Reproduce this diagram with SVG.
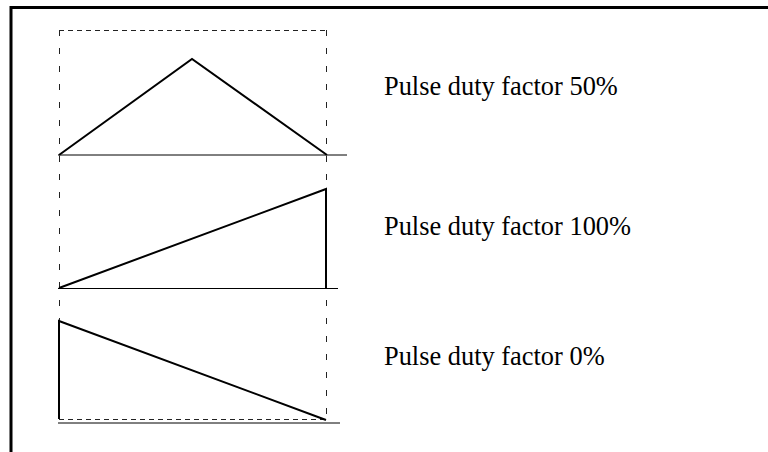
<svg xmlns="http://www.w3.org/2000/svg" width="768" height="452" viewBox="0 0 768 452">
<style>
.frame{fill:none;stroke:#000;stroke-width:3}
.dh{fill:none;stroke:#222;stroke-width:1;stroke-dasharray:5,4}
.dv{fill:none;stroke:#222;stroke-width:1;stroke-dasharray:6,12}
.base{fill:none;stroke:#000;stroke-width:1}
.wave{fill:none;stroke:#000;stroke-width:2;stroke-linejoin:miter}
.lbl{font-family:"Liberation Serif","Times New Roman",serif;font-size:26.4px;fill:#000}
</style>
<rect x="0" y="0" width="768" height="452" fill="#fff"/>
<rect class="frame" x="11" y="7.5" width="780" height="470"/>
<g id="guide">
<line class="dh" x1="59" y1="30.5" x2="326" y2="30.5"/>
<line class="dh" x1="59" y1="419.5" x2="326" y2="419.5"/>
<line class="dv" x1="59.5" y1="30" x2="59.5" y2="420"/>
<line class="dv" x1="326.5" y1="30" x2="326.5" y2="420"/>
</g>
<g id="pulse50">
<line class="base" x1="58" y1="155" x2="347" y2="155"/>
<polyline class="wave" points="59,155 192,59 327,155"/>
<text class="lbl" x="384" y="95">Pulse duty factor 50%</text>
</g>
<g id="pulse100">
<line class="base" x1="58" y1="288.5" x2="338" y2="288.5"/>
<polyline class="wave" points="59,288 326,189 326,288"/>
<text class="lbl" x="384" y="235">Pulse duty factor 100%</text>
</g>
<g id="pulse0">
<line class="base" x1="58" y1="423" x2="340" y2="423"/>
<polyline class="wave" points="59,419 59,321 326,420"/>
<text class="lbl" x="384" y="365">Pulse duty factor 0%</text>
</g>
</svg>
